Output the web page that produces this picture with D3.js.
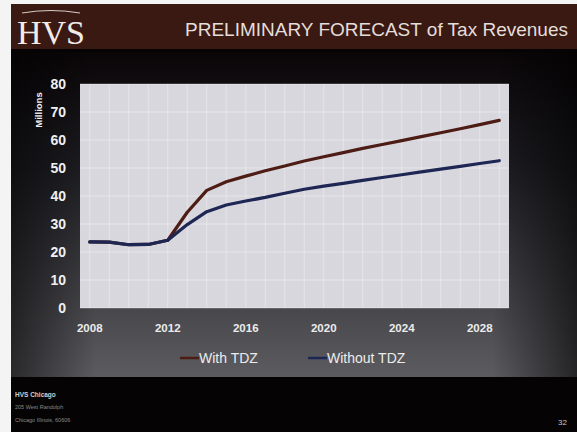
<!DOCTYPE html>
<html lang="en">
<head>
  <meta charset="UTF-8">
  <title>Preliminary Forecast of Tax Revenues</title>
  <style>
    html, body { margin: 0; padding: 0; background: #f4f4f4; }
    svg { display: block; font-family: Arial, "Liberation Sans", sans-serif; }
  </style>
</head>
<body>
  <script src="https://d3js.org/d3.v7.min.js"></script>
  <svg id="chart" width="577" height="432"></svg>
  <script>
    // years on the category axis, labels shown every 4 years
    const years = d3.range(2008, 2030);
    const tickYears = [2008, 2012, 2016, 2020, 2024, 2028];
    const yTicks = [0, 10, 20, 30, 40, 50, 60, 70, 80];

    // values (millions)
    const withTDZ = [23.6, 23.5, 22.6, 22.7, 24.2, 34.2, 42.0, 45.1, 47.1, 49.0,
                     50.7, 52.5, 54.0, 55.5, 57.0, 58.4, 59.8, 61.2, 62.6, 64.0, 65.5, 67.0];
    const withoutTDZ = [23.6, 23.5, 22.6, 22.7, 24.2, 29.8, 34.4, 36.8, 38.2, 39.5,
                        41.0, 42.4, 43.5, 44.5, 45.6, 46.6, 47.6, 48.6, 49.6, 50.6, 51.6, 52.6];

    const series = [
      { name: "With TDZ", values: withTDZ, color: "#4d1c14" },
      { name: "Without TDZ", values: withoutTDZ, color: "#1e2654" }
    ];

    const svg = d3.select("svg#chart");
    const defs = svg.append("defs");

    // slide background gradient
    const bg = defs.append("linearGradient").attr("id", "bg")
      .attr("x1", 0).attr("y1", 0).attr("x2", 0).attr("y2", 1);
    bg.append("stop").attr("offset", "0%").attr("stop-color", "#0a0608");
    bg.append("stop").attr("offset", "35%").attr("stop-color", "#1e1d22");
    bg.append("stop").attr("offset", "100%").attr("stop-color", "#5c5b60");

    const side = defs.append("linearGradient").attr("id", "side")
      .attr("x1", 0).attr("y1", 0).attr("x2", 1).attr("y2", 0);
    side.append("stop").attr("offset", "0%").attr("stop-color", "#000").attr("stop-opacity", 0.55);
    side.append("stop").attr("offset", "15%").attr("stop-color", "#000").attr("stop-opacity", 0);
    side.append("stop").attr("offset", "85%").attr("stop-color", "#000").attr("stop-opacity", 0);
    side.append("stop").attr("offset", "100%").attr("stop-color", "#000").attr("stop-opacity", 0.6);

    svg.append("rect").attr("x", 11).attr("y", 4).attr("width", 566).attr("height", 428).attr("fill", "#050304");
    svg.append("rect").attr("x", 11).attr("y", 52).attr("width", 566).attr("height", 325).attr("fill", "url(#bg)");
    svg.append("rect").attr("x", 11).attr("y", 52).attr("width", 566).attr("height", 325).attr("fill", "url(#side)");

    // header band
    svg.append("rect").attr("x", 11).attr("y", 4).attr("width", 566).attr("height", 45).attr("fill", "#3a1912");
    svg.append("path")
      .attr("d", "M22,13 Q51,8 80,13")
      .attr("fill", "none").attr("stroke", "#d8ccc6").attr("stroke-width", 1);
    svg.append("text")
      .attr("x", 17).attr("y", 44)
      .attr("font-family", "'Liberation Serif', 'DejaVu Serif', serif")
      .attr("font-size", 33).attr("fill", "#f2ece8")
      .attr("textLength", 68).attr("lengthAdjust", "spacingAndGlyphs")
      .text("HVS");
    svg.append("text")
      .attr("x", 568).attr("y", 36)
      .attr("text-anchor", "end")
      .attr("font-size", 19).attr("fill", "#e4deda")
      .text("PRELIMINARY FORECAST of Tax Revenues");

    // plot area
    const margin = { top: 84, left: 80 };
    const width = 429, height = 224;

    const x = d3.scaleBand().domain(years).range([0, width]);
    const y = d3.scaleLinear().domain([0, 80]).range([height, 0]);

    const g = svg.append("g").attr("transform", "translate(" + margin.left + "," + margin.top + ")");

    g.append("rect").attr("width", width).attr("height", height).attr("fill", "#d9d7de");

    // faint white grid
    g.append("g").selectAll("line").data(years).join("line")
      .attr("x1", d => x(d) + x.bandwidth() / 2).attr("x2", d => x(d) + x.bandwidth() / 2)
      .attr("y1", 0).attr("y2", height)
      .attr("stroke", "#ffffff").attr("stroke-opacity", 0.35);
    g.append("g").selectAll("line").data(yTicks).join("line")
      .attr("x1", 0).attr("x2", width)
      .attr("y1", d => y(d)).attr("y2", d => y(d))
      .attr("stroke", "#ffffff").attr("stroke-opacity", 0.35);

    // y axis
    const yAxis = g.append("g")
      .attr("transform", "translate(-14,0)")
      .call(d3.axisLeft(y).tickValues(yTicks).tickSize(0).tickPadding(0));
    yAxis.select(".domain").remove();
    yAxis.selectAll("text")
      .attr("fill", "#f0f0f0").attr("font-size", 14).attr("font-weight", "bold")
      .attr("font-family", "Arial, 'Liberation Sans', sans-serif");

    // x axis
    const xAxis = g.append("g")
      .attr("transform", "translate(0," + height + ")")
      .call(d3.axisBottom(x).tickValues(tickYears).tickSize(0).tickPadding(16));
    xAxis.select(".domain").remove();
    xAxis.selectAll("text")
      .attr("fill", "#ececec").attr("font-size", 11.5).attr("font-weight", "bold")
      .attr("font-family", "Arial, 'Liberation Sans', sans-serif");

    // y label
    svg.append("text")
      .attr("transform", "translate(42,110) rotate(-90)")
      .attr("text-anchor", "middle")
      .attr("font-size", 9.5).attr("font-weight", "bold").attr("fill", "#f0f0f0")
      .text("Millions");

    // lines
    const line = d3.line()
      .x((d, i) => x(years[i]) + x.bandwidth() / 2)
      .y(d => y(d));

    g.selectAll(".series").data(series).join("path")
      .attr("class", "series")
      .attr("d", d => line(d.values))
      .attr("fill", "none")
      .attr("stroke", d => d.color)
      .attr("stroke-width", 3.2)
      .attr("stroke-linejoin", "round")
      .attr("stroke-linecap", "round");

    // legend
    const legendX = [180, 308];
    const legend = svg.append("g").selectAll("g").data(series).join("g")
      .attr("transform", (d, i) => "translate(" + legendX[i] + ",358)");
    legend.append("line")
      .attr("x1", 0).attr("x2", 19).attr("y1", 0).attr("y2", 0)
      .attr("stroke", d => d.color).attr("stroke-width", 2.5);
    legend.append("text")
      .attr("x", 19).attr("y", 5)
      .attr("font-size", 14).attr("fill", "#ececec")
      .text(d => d.name);

    // footer
    svg.append("text").attr("x", 15).attr("y", 397)
      .attr("font-size", 6.5).attr("font-weight", "bold").attr("fill", "#cfcfcf")
      .text("HVS Chicago");
    svg.append("text").attr("x", 15).attr("y", 409)
      .attr("font-size", 5.5).attr("fill", "#8a8a8a")
      .text("205 West Randolph");
    svg.append("text").attr("x", 15).attr("y", 422)
      .attr("font-size", 5.5).attr("fill", "#8a8a8a")
      .text("Chicago Illinois, 60606");
    svg.append("text").attr("x", 567).attr("y", 425)
      .attr("text-anchor", "end")
      .attr("font-size", 8).attr("fill", "#c8c8c8")
      .text("32");
  </script>
</body>
</html>
